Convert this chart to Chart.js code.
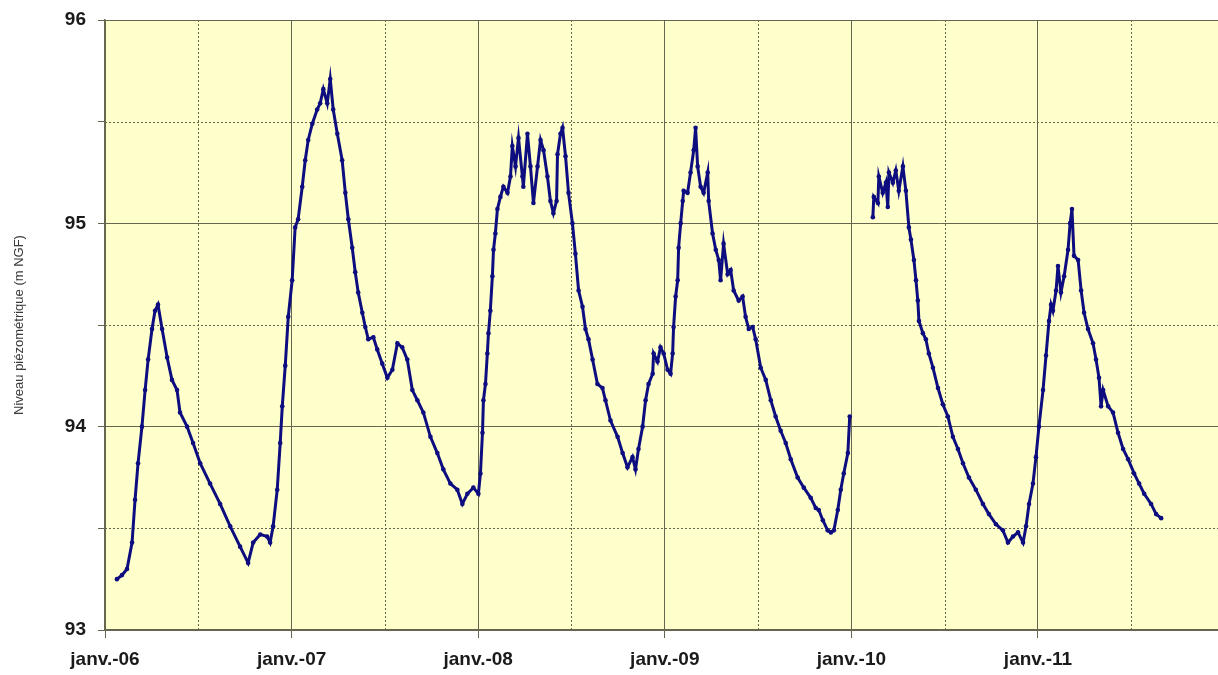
<!DOCTYPE html>
<html lang="fr">
<head>
<meta charset="utf-8">
<title>Niveau piézométrique</title>
<script src="https://cdn.jsdelivr.net/npm/chart.js@4.4.1/dist/chart.umd.min.js"></script>
<style>
    html, body { margin: 0; padding: 0; background: #ffffff; overflow: hidden; }
    #wrap { width: 1223px; height: 675px; position: relative; }
    #levelChart { display: block; }
</style>
</head>
<body>
<div id="wrap"><canvas id="levelChart"></canvas></div>
<script>
/**
 * Chronique du niveau piézométrique (m NGF), 2006 - 2011
 */

// Dates en années décimales (2006.0 = 1er janvier 2006)
const dates = [
    2006.064, 2006.091, 2006.118, 2006.145, 2006.161, 2006.177, 2006.198, 2006.215, 2006.231, 2006.252,
    2006.268, 2006.284, 2006.306, 2006.333, 2006.359, 2006.386, 2006.402, 2006.440, 2006.472, 2006.510,
    2006.563, 2006.617, 2006.671, 2006.724, 2006.767, 2006.794, 2006.832, 2006.869, 2006.885, 2006.901,
    2006.923, 2006.939, 2006.950, 2006.966, 2006.982, 2007.003, 2007.019, 2007.035, 2007.057, 2007.073,
    2007.089, 2007.111, 2007.137, 2007.153, 2007.170, 2007.191, 2007.207, 2007.223, 2007.245, 2007.271,
    2007.288, 2007.304, 2007.325, 2007.341, 2007.357, 2007.379, 2007.395, 2007.411, 2007.438, 2007.459,
    2007.486, 2007.513, 2007.540, 2007.567, 2007.593, 2007.620, 2007.647, 2007.674, 2007.706, 2007.744,
    2007.781, 2007.813, 2007.851, 2007.888, 2007.915, 2007.942, 2007.974, 2008.001, 2008.012, 2008.023,
    2008.028, 2008.039, 2008.049, 2008.055, 2008.065, 2008.076, 2008.082, 2008.092, 2008.103, 2008.119,
    2008.135, 2008.157, 2008.173, 2008.183, 2008.200, 2008.216, 2008.237, 2008.242, 2008.264, 2008.280,
    2008.296, 2008.318, 2008.334, 2008.350, 2008.371, 2008.387, 2008.403, 2008.420, 2008.425, 2008.441,
    2008.452, 2008.468, 2008.484, 2008.505, 2008.521, 2008.538, 2008.559, 2008.575, 2008.591, 2008.613,
    2008.639, 2008.666, 2008.682, 2008.709, 2008.747, 2008.774, 2008.800, 2008.827, 2008.843, 2008.859,
    2008.881, 2008.897, 2008.913, 2008.935, 2008.940, 2008.961, 2008.977, 2008.994, 2009.015, 2009.031,
    2009.042, 2009.047, 2009.058, 2009.069, 2009.074, 2009.085, 2009.096, 2009.101, 2009.122, 2009.138,
    2009.155, 2009.165, 2009.176, 2009.192, 2009.208, 2009.230, 2009.235, 2009.256, 2009.273, 2009.289,
    2009.299, 2009.315, 2009.337, 2009.353, 2009.369, 2009.396, 2009.417, 2009.433, 2009.450, 2009.471,
    2009.487, 2009.514, 2009.541, 2009.568, 2009.594, 2009.621, 2009.648, 2009.675, 2009.712, 2009.745,
    2009.782, 2009.809, 2009.825, 2009.847, 2009.873, 2009.890, 2009.906, 2009.927, 2009.943, 2009.959,
    2009.981, 2009.991, 2010.050, 2010.115, 2010.120, 2010.142, 2010.147, 2010.168, 2010.185, 2010.195,
    2010.201, 2010.222, 2010.238, 2010.254, 2010.276, 2010.292, 2010.308, 2010.319, 2010.335, 2010.346,
    2010.356, 2010.362, 2010.383, 2010.399, 2010.415, 2010.437, 2010.464, 2010.490, 2010.517, 2010.544,
    2010.571, 2010.598, 2010.630, 2010.667, 2010.705, 2010.737, 2010.775, 2010.812, 2010.839, 2010.866,
    2010.893, 2010.920, 2010.936, 2010.952, 2010.973, 2010.989, 2011.005, 2011.027, 2011.043, 2011.059,
    2011.070, 2011.080, 2011.097, 2011.107, 2011.123, 2011.140, 2011.161, 2011.172, 2011.182, 2011.193,
    2011.215, 2011.231, 2011.247, 2011.268, 2011.295, 2011.311, 2011.327, 2011.338, 2011.349, 2011.376,
    2011.402, 2011.429, 2011.456, 2011.483, 2011.515, 2011.542, 2011.569, 2011.606, 2011.633, 2011.660
];

// Niveau en m NGF (null = lacune de mesure début 2010)
const levels = [
    93.25, 93.27, 93.30, 93.43, 93.64, 93.82, 94.00, 94.18, 94.33, 94.48,
    94.57, 94.60, 94.48, 94.34, 94.23, 94.18, 94.07, 94.00, 93.92, 93.82,
    93.72, 93.62, 93.51, 93.41, 93.33, 93.43, 93.47, 93.46, 93.43, 93.51,
    93.69, 93.92, 94.10, 94.30, 94.54, 94.72, 94.98, 95.02, 95.18, 95.31,
    95.41, 95.49, 95.56, 95.59, 95.66, 95.59, 95.71, 95.56, 95.44, 95.31,
    95.15, 95.02, 94.88, 94.76, 94.66, 94.56, 94.49, 94.43, 94.44, 94.38,
    94.31, 94.24, 94.28, 94.41, 94.39, 94.33, 94.18, 94.13, 94.07, 93.95,
    93.87, 93.79, 93.72, 93.69, 93.62, 93.67, 93.70, 93.67, 93.77, 93.97,
    94.13, 94.21, 94.36, 94.46, 94.57, 94.74, 94.87, 94.95, 95.07, 95.13,
    95.18, 95.15, 95.23, 95.38, 95.28, 95.42, 95.23, 95.18, 95.44, 95.28,
    95.10, 95.28, 95.41, 95.36, 95.23, 95.11, 95.05, 95.11, 95.34, 95.44,
    95.47, 95.33, 95.15, 95.00, 94.85, 94.67, 94.59, 94.48, 94.43, 94.33,
    94.21, 94.19, 94.13, 94.03, 93.95, 93.87, 93.80, 93.85, 93.79, 93.89,
    94.00, 94.13, 94.21, 94.26, 94.36, 94.32, 94.39, 94.36, 94.28, 94.26,
    94.36, 94.49, 94.64, 94.72, 94.88, 95.00, 95.11, 95.16, 95.15, 95.25,
    95.36, 95.47, 95.28, 95.18, 95.15, 95.25, 95.11, 94.95, 94.87, 94.82,
    94.72, 94.90, 94.75, 94.77, 94.67, 94.62, 94.64, 94.54, 94.48, 94.49,
    94.43, 94.29, 94.23, 94.13, 94.05, 93.98, 93.92, 93.84, 93.75, 93.70,
    93.65, 93.60, 93.59, 93.54, 93.49, 93.48, 93.49, 93.59, 93.69, 93.77,
    93.87, 94.05, null, 95.03, 95.13, 95.10, 95.23, 95.15, 95.20, 95.08,
    95.25, 95.20, 95.26, 95.16, 95.28, 95.16, 94.98, 94.92, 94.82, 94.72,
    94.62, 94.52, 94.46, 94.43, 94.36, 94.29, 94.19, 94.11, 94.05, 93.95,
    93.89, 93.82, 93.75, 93.69, 93.62, 93.57, 93.52, 93.49, 93.43, 93.46,
    93.48, 93.43, 93.51, 93.62, 93.72, 93.85, 94.00, 94.18, 94.35, 94.52,
    94.60, 94.57, 94.67, 94.79, 94.66, 94.74, 94.87, 95.00, 95.07, 94.84,
    94.82, 94.67, 94.56, 94.48, 94.41, 94.33, 94.24, 94.10, 94.18, 94.10,
    94.07, 93.97, 93.89, 93.84, 93.77, 93.72, 93.67, 93.62, 93.57, 93.55
];

// Graduations : un trait tous les semestres, étiquette au 1er janvier
const xTicks = [2006, 2006.5, 2007, 2007.5, 2008, 2008.5, 2009, 2009.5, 2010, 2010.5, 2011, 2011.5];
const yearLabels = ['janv.-06', 'janv.-07', 'janv.-08', 'janv.-09', 'janv.-10', 'janv.-11'];
const yTicks = [93, 93.5, 94, 94.5, 95, 95.5, 96];

const GRID_COLOR = '#66664f';
const PLOT_BG = '#ffffcc';
const SERIES_COLOR = '#0d0d80';
const FONT = '"Liberation Sans", Arial, sans-serif';

function isWhole(v) {
    return Math.abs(v - Math.round(v)) < 1e-6;
}

// Fond jaune de la zone de tracé + grilles pointillées des demi-graduations
const plotDecor = {
    id: 'plotDecor',
    beforeDraw(chart) {
        const { ctx, chartArea: a } = chart;
        ctx.save();
        ctx.fillStyle = PLOT_BG;
        ctx.fillRect(a.left, a.top, a.right - a.left, a.bottom - a.top);
        ctx.restore();
    },
    beforeDatasetsDraw(chart) {
        const { ctx, chartArea: a, scales } = chart;
        ctx.save();
        ctx.strokeStyle = GRID_COLOR;
        ctx.lineWidth = 1;
        ctx.setLineDash([2, 2]);
        xTicks.filter(v => !isWhole(v)).forEach(v => {
            const px = Math.round(scales.x.getPixelForValue(v)) + 0.5;
            ctx.beginPath();
            ctx.moveTo(px, a.top);
            ctx.lineTo(px, a.bottom);
            ctx.stroke();
        });
        yTicks.filter(v => !isWhole(v)).forEach(v => {
            const py = Math.round(scales.y.getPixelForValue(v)) + 0.5;
            ctx.beginPath();
            ctx.moveTo(a.left, py);
            ctx.lineTo(a.right, py);
            ctx.stroke();
        });
        ctx.restore();
    }
};

const points = dates.map((d, i) => ({ x: d, y: levels[i] }));

const ctx = document.getElementById('levelChart').getContext('2d');
const levelChart = new Chart(ctx, {
    type: 'line',
    data: {
        datasets: [{
            label: 'Niveau piézométrique',
            data: points,
            borderColor: SERIES_COLOR,
            backgroundColor: SERIES_COLOR,
            borderWidth: 3,
            pointRadius: 2.3,
            pointBorderWidth: 0,
            pointBackgroundColor: SERIES_COLOR,
            spanGaps: false,
            tension: 0
        }]
    },
    options: {
        responsive: true,
        maintainAspectRatio: false,
        animation: false,
        layout: { padding: { top: 20, right: 0, left: 0, bottom: 0 } },
        plugins: {
            legend: { display: false },
            tooltip: { enabled: false }
        },
        scales: {
            x: {
                type: 'linear',
                min: 2006,
                max: 2011.97,
                afterBuildTicks: scale => {
                    scale.ticks = xTicks.map(v => ({ value: v }));
                },
                afterFit: scale => {
                    scale.height = 45;
                    scale.paddingLeft = 0;
                    scale.paddingRight = 0;
                },
                ticks: {
                    autoSkip: false,
                    maxRotation: 0,
                    padding: 10,
                    color: '#1a1a1a',
                    font: { family: FONT, size: 19, weight: 'bold' },
                    callback: value => isWhole(value) ? yearLabels[Math.round(value) - 2006] : ''
                },
                grid: {
                    color: c => (c.tick && !isWhole(c.tick.value)) ? 'transparent' : GRID_COLOR,
                    tickColor: c => (c.tick && !isWhole(c.tick.value)) ? 'transparent' : GRID_COLOR,
                    tickLength: 8,
                    lineWidth: 1
                },
                border: { color: GRID_COLOR, width: 1.5 }
            },
            y: {
                min: 93,
                max: 96,
                afterBuildTicks: scale => {
                    scale.ticks = yTicks.map(v => ({ value: v }));
                },
                afterFit: scale => {
                    scale.width = 105;
                    scale.paddingTop = 0;
                    scale.paddingBottom = 0;
                },
                ticks: {
                    padding: 12,
                    color: '#1a1a1a',
                    font: { family: FONT, size: 19, weight: 'bold' },
                    callback: value => isWhole(value) ? String(value) : ''
                },
                grid: {
                    color: c => (c.tick && !isWhole(c.tick.value)) ? 'transparent' : GRID_COLOR,
                    tickColor: GRID_COLOR,
                    tickLength: 7,
                    lineWidth: 1
                },
                border: { color: GRID_COLOR, width: 1.5 },
                title: {
                    display: true,
                    text: 'Niveau piézométrique (m NGF)',
                    color: '#3a3a3a',
                    font: { family: FONT, size: 13 },
                    padding: { top: 12, bottom: 0 }
                }
            }
        }
    },
    plugins: [plotDecor]
});
</script>
</body>
</html>
